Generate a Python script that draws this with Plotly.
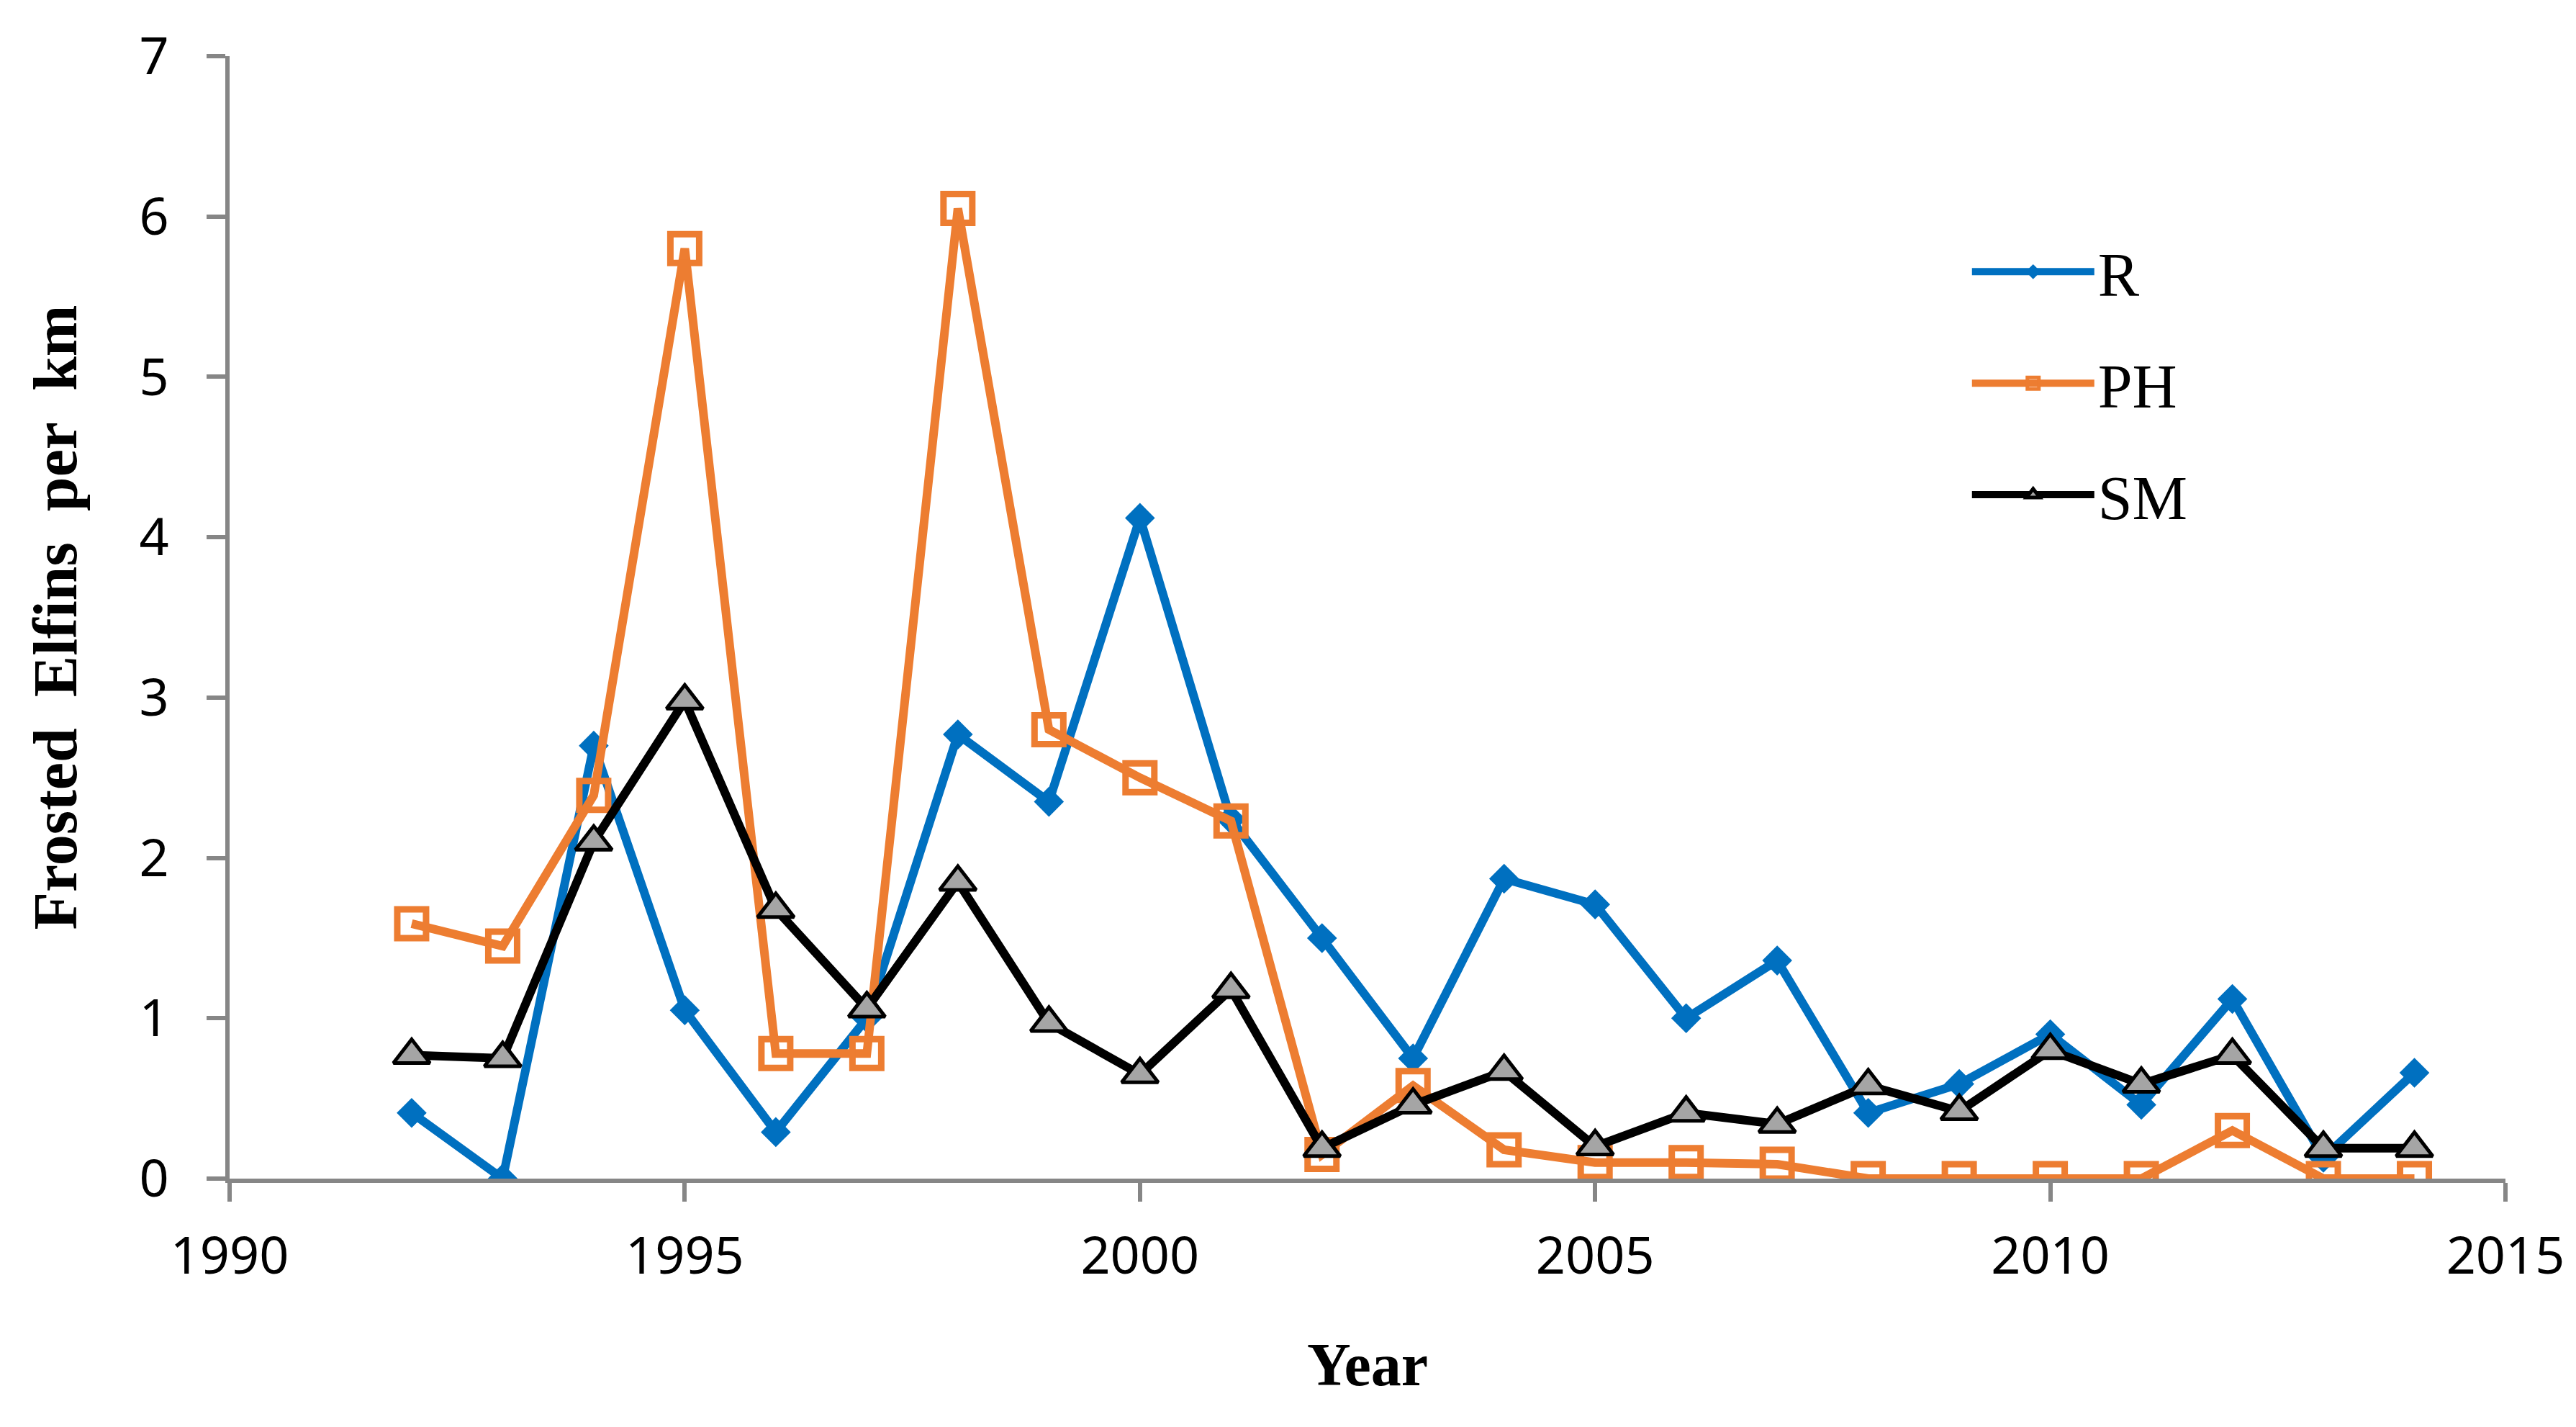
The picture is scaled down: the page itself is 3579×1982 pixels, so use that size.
import plotly.graph_objects as go

years = list(range(1992, 2015))
r_vals = [0.41, 0.0, 2.70, 1.05, 0.29, 1.0, 2.77, 2.35, 4.12, 2.24, 1.50, 0.75, 1.87, 1.71,
          1.0, 1.36, 0.41, 0.59, 0.90, 0.46, 1.12, 0.13, 0.66]
ph_vals = [1.59, 1.45, 2.39, 5.80, 0.78, 0.78, 6.05, 2.80, 2.50, 2.23, 0.15, 0.58, 0.18, 0.10,
           0.10, 0.09, 0.0, 0.0, 0.0, 0.0, 0.30, 0.0, 0.0]
sm_vals = [0.77, 0.75, 2.10, 2.98, 1.68, 1.06, 1.85, 0.97, 0.65, 1.18, 0.19, 0.46, 0.67, 0.20,
           0.41, 0.34, 0.58, 0.42, 0.80, 0.59, 0.77, 0.19, 0.19]

x_ticks = [1990, 1995, 2000, 2005, 2010, 2015]
y_ticks = [0, 1, 2, 3, 4, 5, 6, 7]

BLUE = "#0070C0"
ORANGE = "#ED7D31"
GRAYFILL = "#A5A5A5"
AXIS = "#868686"

fig = go.Figure()
fig.add_trace(go.Scatter(
    x=years, y=r_vals, name="R", mode="lines+markers", legendgroup="r",
    line=dict(color=BLUE, width=12),
    marker=dict(symbol="diamond", size=32, color=BLUE, line=dict(width=0)),
))
fig.add_trace(go.Scatter(
    x=years, y=ph_vals, name="PH", mode="lines+markers", legendgroup="ph",
    line=dict(color=ORANGE, width=12),
    marker=dict(symbol="square-open", size=40, color=ORANGE, line=dict(width=9, color=ORANGE)),
))
fig.add_trace(go.Scatter(
    x=years, y=sm_vals, name="SM", mode="lines+markers", legendgroup="sm",
    line=dict(color="black", width=12),
    marker=dict(symbol="triangle-up", size=44, color=GRAYFILL, line=dict(width=5, color="black")),
))

fig.update_layout(
    width=3579, height=1982,
    margin=dict(l=311, r=106, t=70, b=353, autoexpand=False),
    paper_bgcolor="white", plot_bgcolor="white",
    showlegend=True,
    legend=dict(
        x=0.764, y=0.848, xanchor="left", yanchor="top",
        font=dict(family="Liberation Serif", size=86, color="black"),
        itemwidth=170, tracegroupgap=40, bgcolor="rgba(0,0,0,0)",
    ),
    xaxis=dict(
        range=[1990, 2015], tickvals=x_ticks, ticktext=[str(v) for v in x_ticks],
        showgrid=False, zeroline=False, showline=True, linecolor=AXIS, linewidth=6,
        ticks="outside", ticklen=26, tickwidth=6, tickcolor=AXIS,
        ticklabelstandoff=14,
        tickfont=dict(family="Noto Sans", size=72, color="black"),
        title=dict(text="<b>Year</b>", standoff=78,
                   font=dict(family="Liberation Serif", size=84, color="black")),
    ),
    yaxis=dict(
        range=[0, 7], tickvals=y_ticks, ticktext=[str(v) for v in y_ticks],
        showgrid=False, zeroline=False, showline=True, linecolor=AXIS, linewidth=6,
        ticks="outside", ticklen=26, tickwidth=6, tickcolor=AXIS,
        ticklabelstandoff=38,
        tickfont=dict(family="Noto Sans", size=72, color="black"),
        title=dict(text="<b>Frosted\u00a0\u00a0Elfins\u00a0\u00a0per\u00a0\u00a0km</b>", standoff=60,
                   font=dict(family="Liberation Serif", size=86, color="black")),
    ),
)

fig.write_html("out.html")
